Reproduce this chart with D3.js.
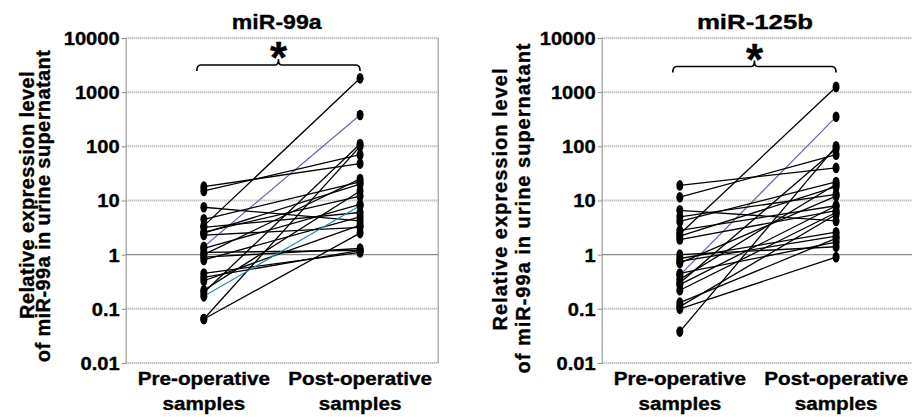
<!DOCTYPE html>
<html><head><meta charset="utf-8">
<script src="https://cdn.jsdelivr.net/npm/d3@7"></script>
<style>
body{margin:0;background:#fff}
svg text{font-family:"Liberation Sans",Arial,sans-serif;font-weight:bold;fill:#000;stroke:#000;stroke-width:0.35px}
</style>
</head><body><svg id="c" width="912" height="417"></svg>
<script>
// ---------- data ----------
const categories = ["Pre-operative samples", "Post-operative samples"];
const catLine1 = ["Pre-operative", "Post-operative"];
const catLine2 = ["samples", "samples"];
const yTicks = [0.01, 0.1, 1, 10, 100, 1000, 10000];
const tickLabels = ["0.01", "0.1", "1", "10", "100", "1000", "10000"];
const titles = ["miR-99a", "miR-125b"];
const yLabelLine1 = "Relative  expression  level";
const yLabelLine2 = "of miR-99a in urine supernatant";

// miR-99a paired samples (pre -> post)
const pre99  = [3.4, 1.4, 0.065, 0.2, 18, 15, 7.5, 4.5, 2.5, 2.3, 2.6, 3.2, 1.3, 1.1, 0.9, 0.8, 0.45, 0.38, 0.33, 0.22, 0.17, 0.065, 1.0];
const post99 = [1800, 380, 100, 110, 48, 70, 4.2, 22, 20, 3.2, 12, 6, 8.5, 1.2, 1.3, 5, 1.1, 1.2, 3.5, 15, 8, 2.5, 25];

// miR-125b paired samples (pre -> post)
const pre125  = [2.4, 0.42, 0.038, 19, 11.5, 6.6, 4.1, 2.8, 2.2, 1.9, 5.0, 1.0, 0.85, 0.3, 0.45, 0.35, 0.28, 0.22, 0.13, 0.1, 0.7, 0.75, 0.11];
const post125 = [1250, 350, 100, 40, 70, 4.2, 22, 8, 18, 6.5, 13, 1.4, 2.6, 90, 1.7, 20, 8, 6, 2, 0.9, 12, 2.2, 5.5];

// ---------- drawing ----------
const svg = d3.select("#c");
const PLOT_W = 312.5, TOP = 38, BOTTOM = 363;

function panel(cfg) {
  const {ox, pre, post, title, titleSX, titleX, special, yl} = cfg;
  const g = svg.append("g");
  const x = d3.scalePoint().domain(categories).range([ox, ox + PLOT_W]).padding(0.5);
  const y = d3.scaleLog().domain([0.01, 10000]).range([BOTTOM, TOP]);

  // gridlines
  g.selectAll("line.grid").data(yTicks).join("line")
    .attr("class", "grid")
    .attr("x1", ox).attr("x2", ox + PLOT_W)
    .attr("y1", d => y(d)).attr("y2", d => y(d))
    .attr("stroke", d => d === 1 ? "#8a8a8a" : "#a8a8a8")
    .attr("stroke-width", d => d === 1 ? 1.2 : 2)
    .attr("stroke-dasharray", d => d === 1 ? null : "1,1");

  // right border
  g.append("line").attr("x1", ox + PLOT_W).attr("x2", ox + PLOT_W)
    .attr("y1", y(10000)).attr("y2", y(0.01))
    .attr("stroke", "#8a8a8a").attr("stroke-width", 1);

  // y axis
  const ax = g.append("g").attr("transform", `translate(${ox},0)`)
    .call(d3.axisLeft(y).tickValues(yTicks).tickFormat("").tickSize(4).tickSizeOuter(0));
  ax.select(".domain").attr("stroke", "#8a8a8a");
  ax.selectAll(".tick line").attr("stroke", "#8a8a8a");

  // tick labels
  g.selectAll("text.tl").data(yTicks).join("text")
    .attr("class", "tl")
    .attr("text-anchor", "end")
    .attr("dy", "0.36em")
    .style("font-size", "19px")
    .attr("transform", d => `translate(${ox - 6},${y(d)}) scale(1.06,1)`)
    .text((d, i) => tickLabels[i]);

  // paired lines
  const pairs = pre.map((v, i) => ({pre: v, post: post[i], i}));
  g.selectAll("line.pair").data(pairs).join("line")
    .attr("class", "pair")
    .attr("x1", x(categories[0])).attr("y1", d => y(d.pre))
    .attr("x2", x(categories[1])).attr("y2", d => y(d.post))
    .attr("stroke", d => special[d.i] || "#000")
    .attr("stroke-width", d => special[d.i] ? 1.2 : 1.3);

  // dots
  const pts = [];
  pairs.forEach(d => { pts.push([categories[0], d.pre]); pts.push([categories[1], d.post]); });
  g.selectAll("ellipse").data(pts).join("ellipse")
    .attr("cx", d => x(d[0])).attr("cy", d => y(d[1]))
    .attr("rx", 3.5).attr("ry", 5.3).attr("fill", "#000");

  // category labels
  categories.forEach((c, i) => {
    g.append("text").attr("text-anchor", "middle").style("font-size", "19px")
      .attr("transform", `translate(${x(c)},385) scale(1.09,1)`).text(catLine1[i]);
    g.append("text").attr("text-anchor", "middle").style("font-size", "19px")
      .attr("transform", `translate(${x(c)},410) scale(1.09,1)`).text(catLine2[i]);
  });

  // title
  g.append("text").attr("text-anchor", "middle").style("font-size", "21px")
    .attr("transform", `translate(${titleX},29) scale(${titleSX},1)`).text(title);

  // y label
  g.append("text").attr("text-anchor", "middle").style("font-size", "20px")
    .style("letter-spacing", yl.ls + "px")
    .attr("transform", `translate(${yl.x1},${yl.c1}) rotate(-90)`).text(yLabelLine1);
  g.append("text").attr("text-anchor", "middle").style("font-size", "20px")
    .style("letter-spacing", yl.ls + "px")
    .attr("transform", `translate(${yl.x2},${yl.c2}) rotate(-90)`).text(yLabelLine2);

  // significance bracket
  const x0 = x(categories[0]) - 7, x1 = x(categories[1]), xc = (x0 + x1) / 2, by = cfg.by;
  const p = d3.path();
  p.moveTo(x0, by + 6); p.quadraticCurveTo(x0, by, x0 + 4, by);
  p.lineTo(xc - 3, by); p.quadraticCurveTo(xc, by, xc, by - 6);
  p.quadraticCurveTo(xc, by, xc + 3, by);
  p.lineTo(x1 - 4, by); p.quadraticCurveTo(x1, by, x1, by + 6);
  g.append("path").attr("d", p.toString()).attr("fill", "none")
    .attr("stroke", "#000").attr("stroke-width", 1.6);
  g.append("text").attr("text-anchor", "middle").style("font-size", "44px")
    .attr("x", xc).attr("y", by + 8).text("*");
}

panel({ox: 125.7, pre: pre99, post: post99, title: titles[0], titleSX: 1.1, titleX: 276.7,
  special: {1: "#6f5fa0", 20: "#2c8aa0"}, by: 65,
  yl: {x1: 34, c1: 195, x2: 50, c2: 206, ls: 0.4}});
panel({ox: 601.7, pre: pre125, post: post125, title: titles[1], titleSX: 1.23, titleX: 755,
  special: {1: "#6f5fa0"}, by: 66.5,
  yl: {x1: 507, c1: 199, x2: 530, c2: 208, ls: 1.0}});
</script>
</body></html>
